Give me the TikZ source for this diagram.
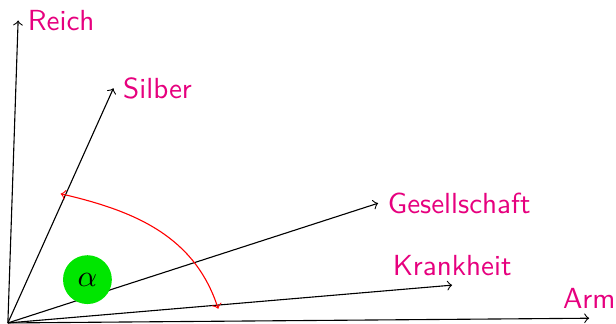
\documentclass[tikz,border=0pt]{standalone}
\definecolor{wortpink}{RGB}{230,0,126}
\definecolor{kreisgruen}{RGB}{0,230,0}
\tikzset{wort/.style={text=wortpink, font=\sffamily\fontsize{10.5}{12.6}\selectfont}}
\begin{document}
\begin{tikzpicture}[scale=1.0]
\useasboundingbox (-0.10,-0.01) rectangle (7.72,4.10);
\coordinate (O) at (0,0);
\draw[->] (O) -- (0.13,3.84) node[right, wort] (reich) {Reich};
\draw[->] (O) -- (1.34,2.98) node[right, wort] (silber) {Silber};
\draw[->] (O) -- (4.70,1.52) node[right, wort] (ges) {Gesellschaft};
\draw[->] (O) -- (5.64,0.48) node[above, wort] (krank) {Krankheit};
\draw[->] (O) -- (7.38,0.06) node[above, wort] (arm) {Arm};
\coordinate (bogenA) at (2.67,0.18);
\coordinate (bogenB) at (0.67,1.64);
\draw[<->, red] (bogenA) to[out=108, in=-13] (bogenB);
\node[circle, fill=kreisgruen, minimum size=0.62cm, inner sep=0pt,
      font=\fontsize{10.5}{12.6}\selectfont] (alpha) at (1.01,0.55) {$\alpha$};
\end{tikzpicture}
\end{document}
